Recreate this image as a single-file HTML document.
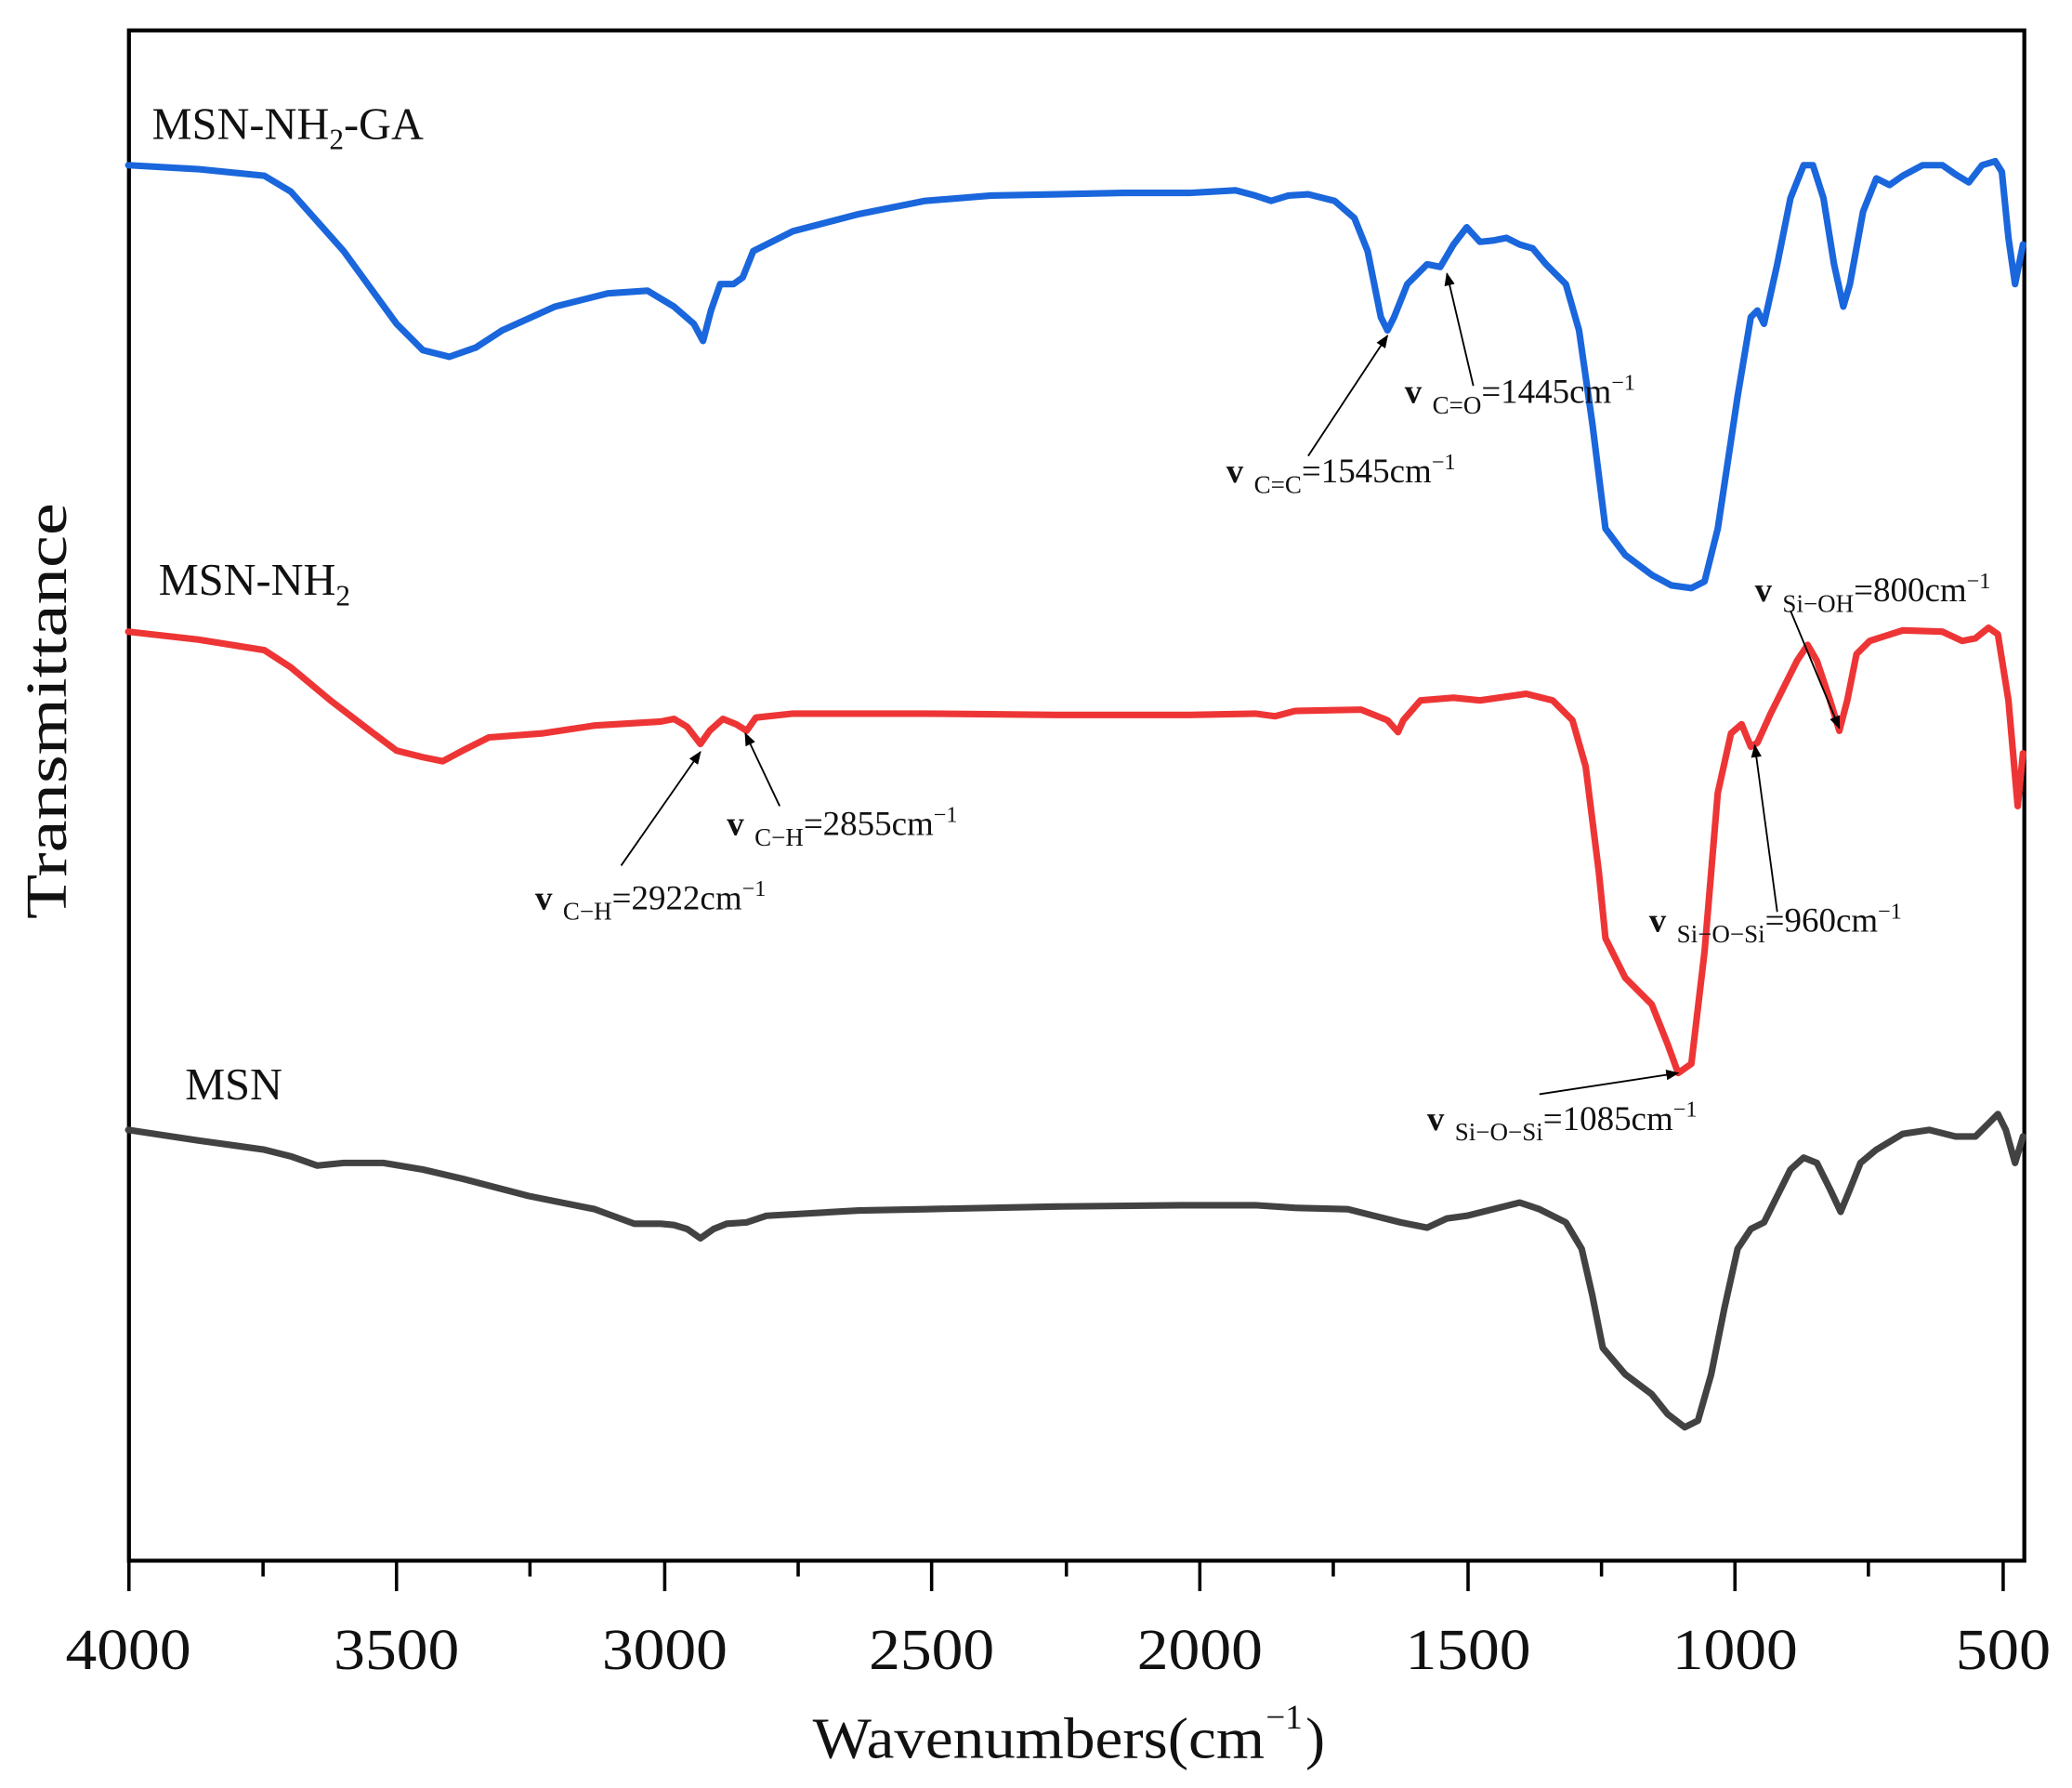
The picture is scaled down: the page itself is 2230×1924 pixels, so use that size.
<!DOCTYPE html>
<html><head><meta charset="utf-8"><style>html,body{margin:0;padding:0;background:#fff}svg{display:block}</style></head>
<body>
<svg width="2230" height="1924" viewBox="0 0 1568 1353" xmlns="http://www.w3.org/2000/svg" font-family="Liberation Serif, serif">
<defs><marker id="ah" markerWidth="10" markerHeight="8" refX="9" refY="4" orient="auto" markerUnits="userSpaceOnUse"><path d="M0,0 L10,4 L0,8 Z" fill="#000"/></marker></defs>
<rect x="97.5" y="23" width="1434.5" height="1158" fill="none" stroke="#000" stroke-width="3"/>
<g stroke="#000" stroke-width="2.5">
<line x1="97.5" y1="1181" x2="97.5" y2="1204"/><line x1="300" y1="1181" x2="300" y2="1204"/><line x1="503" y1="1181" x2="503" y2="1204"/><line x1="705" y1="1181" x2="705" y2="1204"/><line x1="908" y1="1181" x2="908" y2="1204"/><line x1="1111" y1="1181" x2="1111" y2="1204"/><line x1="1313" y1="1181" x2="1313" y2="1204"/><line x1="1516" y1="1181" x2="1516" y2="1204"/>
<line x1="199" y1="1181" x2="199" y2="1193"/><line x1="401" y1="1181" x2="401" y2="1193"/><line x1="604" y1="1181" x2="604" y2="1193"/><line x1="807" y1="1181" x2="807" y2="1193"/><line x1="1009" y1="1181" x2="1009" y2="1193"/><line x1="1212" y1="1181" x2="1212" y2="1193"/><line x1="1414" y1="1181" x2="1414" y2="1193"/>
</g>
<g font-size="44" text-anchor="middle" fill="#111">
<text x="97" y="1263" textLength="95" lengthAdjust="spacingAndGlyphs">4000</text>
<text x="300" y="1263" textLength="95" lengthAdjust="spacingAndGlyphs">3500</text>
<text x="503" y="1263" textLength="95" lengthAdjust="spacingAndGlyphs">3000</text>
<text x="705" y="1263" textLength="95" lengthAdjust="spacingAndGlyphs">2500</text>
<text x="908" y="1263" textLength="95" lengthAdjust="spacingAndGlyphs">2000</text>
<text x="1111" y="1263" textLength="95" lengthAdjust="spacingAndGlyphs">1500</text>
<text x="1313" y="1263" textLength="95" lengthAdjust="spacingAndGlyphs">1000</text>
<text x="1516" y="1263" textLength="72" lengthAdjust="spacingAndGlyphs">500</text>
</g>
<text x="615" y="1330" font-size="44" fill="#111" textLength="342" lengthAdjust="spacingAndGlyphs">Wavenumbers(cm</text>
<text x="958" y="1308" font-size="26" fill="#111">−1</text>
<text x="988" y="1330" font-size="44" fill="#111">)</text>
<text transform="translate(50,538) rotate(-90)" font-size="44" text-anchor="middle" fill="#111" textLength="315" lengthAdjust="spacingAndGlyphs">Transmittance</text>
<g fill="none" stroke-width="5" stroke-linejoin="round" stroke-linecap="round">
<polyline stroke="#1a66dc" points="97,125 150,128 200,133 220,145 260,190 300,245 320,265 340,270 360,263 380,250 420,232 460,222 490,220 510,232 525,245 532,258 538,235 545,215 555,215 562,210 570,190 600,175 650,162 700,152 750,148 800,147 850,146 900,146 935,144 950,148 962,152 975,148 990,147 1010,152 1025,165 1035,190 1045,240 1050,250 1055,240 1065,215 1080,200 1090,202 1100,185 1110,172 1120,183 1130,182 1140,180 1150,185 1160,188 1170,200 1185,215 1195,250 1205,320 1215,400 1230,420 1250,435 1265,443 1280,445 1290,440 1300,400 1315,300 1325,240 1330,235 1335,245 1345,200 1355,150 1365,125 1372,125 1380,150 1388,200 1395,232 1400,215 1410,160 1420,135 1430,140 1440,133 1455,125 1470,125 1480,132 1490,138 1500,125 1510,122 1515,130 1520,180 1525,215 1531,185"/>
<polyline stroke="#ee3535" points="97,478 150,484 200,492 220,505 250,530 280,553 300,568 320,573 335,576 350,568 370,558 410,555 450,549 500,546 510,544 520,550 530,563 537,553 547,544 557,548 565,553 572,543 600,540 700,540 800,541 900,541 950,540 965,542 980,538 1030,537 1050,545 1058,554 1062,545 1075,530 1100,528 1120,530 1155,525 1175,530 1190,545 1200,580 1210,660 1215,710 1230,740 1250,760 1262,790 1270,812 1280,805 1290,720 1300,600 1310,555 1318,548 1325,565 1330,562 1340,540 1350,520 1360,500 1368,488 1375,500 1385,530 1392,553 1398,530 1405,495 1415,485 1440,477 1470,478 1485,485 1495,483 1505,475 1512,480 1520,530 1527,610 1531,570"/>
<polyline stroke="#424242" points="97,855 150,863 200,870 220,875 240,882 260,880 290,880 320,885 350,892 400,905 450,915 480,926 500,926 510,927 520,930 530,937 540,930 550,926 565,925 580,920 650,916 700,915 800,913 900,912 950,912 980,914 1020,915 1040,920 1060,925 1080,929 1095,922 1110,920 1130,915 1150,910 1165,915 1185,925 1197,945 1205,980 1213,1020 1230,1040 1250,1055 1262,1070 1275,1080 1285,1075 1295,1040 1305,990 1315,945 1325,930 1335,925 1345,905 1355,885 1365,876 1375,880 1385,900 1393,917 1400,900 1408,880 1420,870 1440,858 1460,855 1480,860 1495,860 1505,850 1512,843 1518,855 1525,880 1531,860"/>
</g>
<g font-size="34" fill="#111">
<text x="115" y="105">MSN-NH<tspan font-size="22" dy="8">2</tspan><tspan dy="-8">-GA</tspan></text>
<text x="120" y="450">MSN-NH<tspan font-size="22" dy="8">2</tspan></text>
<text x="140" y="832">MSN</text>
</g>
<g stroke="#000" stroke-width="1.3" marker-end="url(#ah)">
<line x1="990" y1="345" x2="1050" y2="254"/>
<line x1="1115" y1="292" x2="1095" y2="207"/>
<line x1="1355" y1="462" x2="1392" y2="551"/>
<line x1="1345" y1="690" x2="1328" y2="564"/>
<line x1="1165" y1="828" x2="1270" y2="812"/>
<line x1="470" y1="655" x2="530" y2="569"/>
<line x1="590" y1="610" x2="564" y2="555"/>
</g>
<g font-size="26" fill="#111">
<text x="928" y="365"><tspan font-weight="bold">v</tspan><tspan font-size="19" dx="8" dy="8">C=C</tspan><tspan dy="-8">=1545cm</tspan><tspan font-size="17" dy="-10">−1</tspan></text>
<text x="1063" y="305"><tspan font-weight="bold">v</tspan><tspan font-size="19" dx="8" dy="8">C=O</tspan><tspan dy="-8">=1445cm</tspan><tspan font-size="17" dy="-10">−1</tspan></text>
<text x="1328" y="455"><tspan font-weight="bold">v</tspan><tspan font-size="19" dx="8" dy="8">Si−OH</tspan><tspan dy="-8">=800cm</tspan><tspan font-size="17" dy="-10">−1</tspan></text>
<text x="1248" y="705"><tspan font-weight="bold">v</tspan><tspan font-size="19" dx="8" dy="8">Si−O−Si</tspan><tspan dy="-8">=960cm</tspan><tspan font-size="17" dy="-10">−1</tspan></text>
<text x="1080" y="855"><tspan font-weight="bold">v</tspan><tspan font-size="19" dx="8" dy="8">Si−O−Si</tspan><tspan dy="-8">=1085cm</tspan><tspan font-size="17" dy="-10">−1</tspan></text>
<text x="405" y="688"><tspan font-weight="bold">v</tspan><tspan font-size="19" dx="8" dy="8">C−H</tspan><tspan dy="-8">=2922cm</tspan><tspan font-size="17" dy="-10">−1</tspan></text>
<text x="550" y="632"><tspan font-weight="bold">v</tspan><tspan font-size="19" dx="8" dy="8">C−H</tspan><tspan dy="-8">=2855cm</tspan><tspan font-size="17" dy="-10">−1</tspan></text>
</g>
</svg>
</body></html>
